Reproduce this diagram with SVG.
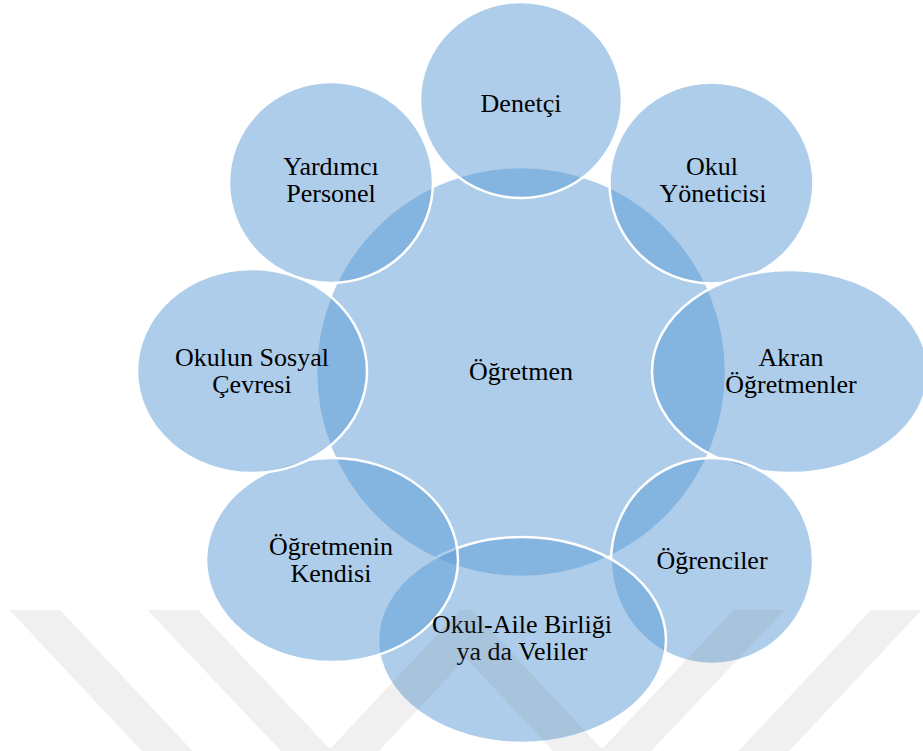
<svg xmlns="http://www.w3.org/2000/svg" width="923" height="751" viewBox="0 0 923 751">
  <style>
    .c { fill: #5B9BD5; fill-opacity: 0.5; stroke: #ffffff; stroke-width: 2.5; }
    .wm { fill: none; stroke: #808080; stroke-opacity: 0.12; stroke-width: 37; stroke-linejoin: miter; }
  </style>
  <defs>
    <clipPath id="wmclip"><rect x="0" y="610" width="923" height="141"/></clipPath>
  </defs>
  <rect width="923" height="751" fill="#ffffff"/>

  <g id="center">
    <circle class="c" cx="521" cy="372" r="205" stroke="none"/>
  </g>
  <g id="n-denetci">
    <ellipse class="c" cx="521" cy="100" rx="101" ry="98"/>
  </g>
  <g id="n-okul-yoneticisi">
    <ellipse class="c" cx="711.5" cy="183" rx="102" ry="100.5"/>
  </g>
  <g id="n-akran">
    <ellipse class="c" cx="790" cy="371.5" rx="138" ry="101.5"/>
  </g>
  <g id="n-ogrenciler">
    <ellipse class="c" cx="712" cy="561" rx="101" ry="103"/>
  </g>
  <g id="n-okul-aile">
    <ellipse class="c" cx="522" cy="640" rx="144" ry="103"/>
  </g>
  <g id="n-kendisi">
    <ellipse class="c" cx="332" cy="560" rx="126" ry="102"/>
  </g>
  <g id="n-sosyal">
    <ellipse class="c" cx="252" cy="371" rx="115" ry="102"/>
  </g>
  <g id="n-yardimci">
    <ellipse class="c" cx="331" cy="182.5" rx="102" ry="100.5"/>
  </g>

  <g id="labels" font-family="'Liberation Serif', serif" font-size="26" fill="#000000" text-anchor="middle">
    <text x="521" y="380">Öğretmen</text>
    <text x="521" y="112">Denetçi</text>
    <text x="712" y="175">Okul</text>
    <text x="713" y="202">Yöneticisi</text>
    <text x="791" y="366">Akran</text>
    <text x="791" y="393">Öğretmenler</text>
    <text x="712" y="569">Öğrenciler</text>
    <text x="522" y="633">Okul-Aile Birliği</text>
    <text x="522" y="660">ya da Veliler</text>
    <text x="331" y="555">Öğretmenin</text>
    <text x="331" y="582">Kendisi</text>
    <text x="252" y="366">Okulun Sosyal</text>
    <text x="252" y="393">Çevresi</text>
    <text x="331" y="175">Yardımcı</text>
    <text x="331" y="202">Personel</text>
  </g>

  <g id="watermark" clip-path="url(#wmclip)">
    <polyline class="wm" points="16,590 185,770"/>
    <polyline class="wm" points="154,590 330,776 466,631 602,776 778,590"/>
    <polyline class="wm" points="915,590 746,770"/>
  </g>
</svg>
